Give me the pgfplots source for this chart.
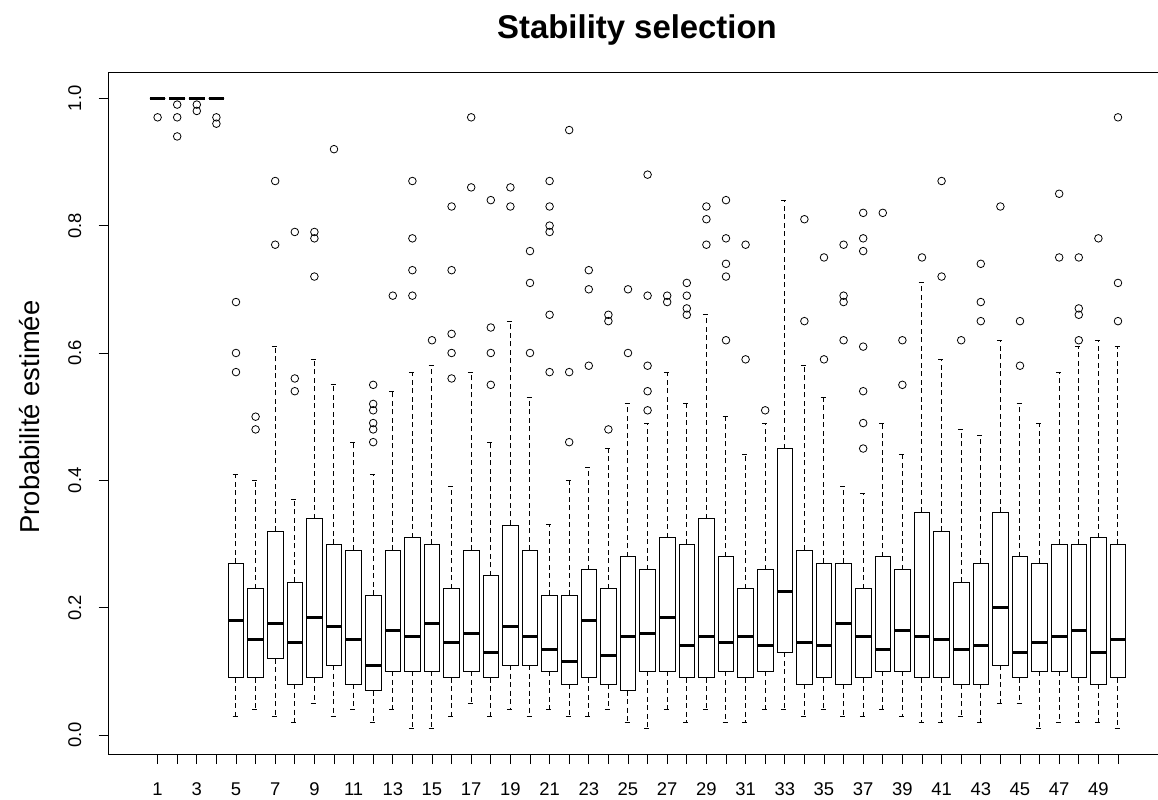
\documentclass[border=0pt]{standalone}
\usepackage{pgfplots}
\pgfplotsset{compat=1.18}
\usepgfplotslibrary{statistics}
\usepackage{fontspec}
\setmainfont{Liberation Sans}

\begin{document}
\begin{tikzpicture}
  \useasboundingbox (0,0) rectangle (1158bp,800bp);
  \node[font=\bfseries\fontsize{33}{38}\selectfont] at (637bp,770bp) {Stability selection};
  \node[rotate=90, font=\fontsize{27.5}{32}\selectfont] at (30bp,383bp) {Probabilité estimée};
  \begin{axis}[
      at={(108.6bp,46bp)}, anchor=south west,
      scale only axis,
      width=1058.4bp, height=681bp,
      xmin=-1.5, xmax=52.5,
      ymin=-0.0296, ymax=1.0396,
      axis line style={line width=1bp},
      tick align=outside,
      major tick length=10bp,
      tick style={black, line width=0.9bp},
      xtick pos=lower, ytick pos=lower,
      xtick={1,...,50},
      xticklabels={1,,3,,5,,7,,9,,11,,13,,15,,17,,19,,21,,23,,25,,27,,29,,31,,33,,35,,37,,39,,41,,43,,45,,47,,49,},
      ytick={0,0.2,0.4,0.6,0.8,1},
      yticklabels={0.0,0.2,0.4,0.6,0.8,1.0},
      ticklabel style={font=\fontsize{18.5}{21}\selectfont, text height=13.5bp, text depth=0bp},
      xticklabel style={anchor=north, yshift=-14bp},
      yticklabel style={rotate=90, anchor=south, yshift=14bp},
      boxplot/draw direction=y,
      boxplot/box extend=0.8,
      boxplot/whisker extend=0.35,
      boxplot/every box/.style={draw=black, line width=0.9bp, fill=white},
      boxplot/every whisker/.style={black, line width=1bp, dash pattern=on 5bp off 3.5bp},
      boxplot/every median/.style={black, line width=3bp},
      every axis plot/.append style={black, mark=o, mark size=3.8bp, mark options={solid, line width=0.8bp}},
    ]
    \addplot[boxplot prepared={draw position=1, lower whisker=1, lower quartile=1, median=1, upper quartile=1, upper whisker=1}] table[row sep=\\, y index=0] {0.97\\};
    \addplot[boxplot prepared={draw position=2, lower whisker=1, lower quartile=1, median=1, upper quartile=1, upper whisker=1}] table[row sep=\\, y index=0] {0.99\\0.97\\0.94\\};
    \addplot[boxplot prepared={draw position=3, lower whisker=1, lower quartile=1, median=1, upper quartile=1, upper whisker=1}] table[row sep=\\, y index=0] {0.99\\0.98\\};
    \addplot[boxplot prepared={draw position=4, lower whisker=1, lower quartile=1, median=1, upper quartile=1, upper whisker=1}] table[row sep=\\, y index=0] {0.97\\0.96\\};
    \addplot[boxplot prepared={draw position=5, lower whisker=0.03, lower quartile=0.09, median=0.18, upper quartile=0.27, upper whisker=0.41}] table[row sep=\\, y index=0] {0.68\\0.60\\0.57\\};
    \addplot[boxplot prepared={draw position=6, lower whisker=0.04, lower quartile=0.09, median=0.15, upper quartile=0.23, upper whisker=0.40}] table[row sep=\\, y index=0] {0.50\\0.48\\};
    \addplot[boxplot prepared={draw position=7, lower whisker=0.03, lower quartile=0.12, median=0.175, upper quartile=0.32, upper whisker=0.61}] table[row sep=\\, y index=0] {0.87\\0.77\\};
    \addplot[boxplot prepared={draw position=8, lower whisker=0.02, lower quartile=0.08, median=0.145, upper quartile=0.24, upper whisker=0.37}] table[row sep=\\, y index=0] {0.79\\0.56\\0.54\\};
    \addplot[boxplot prepared={draw position=9, lower whisker=0.05, lower quartile=0.09, median=0.185, upper quartile=0.34, upper whisker=0.59}] table[row sep=\\, y index=0] {0.79\\0.78\\0.72\\};
    \addplot[boxplot prepared={draw position=10, lower whisker=0.03, lower quartile=0.11, median=0.17, upper quartile=0.30, upper whisker=0.55}] table[row sep=\\, y index=0] {0.92\\};
    \addplot[boxplot prepared={draw position=11, lower whisker=0.04, lower quartile=0.08, median=0.15, upper quartile=0.29, upper whisker=0.46}] coordinates {};
    \addplot[boxplot prepared={draw position=12, lower whisker=0.02, lower quartile=0.07, median=0.11, upper quartile=0.22, upper whisker=0.41}] table[row sep=\\, y index=0] {0.55\\0.52\\0.51\\0.49\\0.48\\0.46\\};
    \addplot[boxplot prepared={draw position=13, lower whisker=0.04, lower quartile=0.10, median=0.165, upper quartile=0.29, upper whisker=0.54}] table[row sep=\\, y index=0] {0.69\\};
    \addplot[boxplot prepared={draw position=14, lower whisker=0.01, lower quartile=0.10, median=0.155, upper quartile=0.31, upper whisker=0.57}] table[row sep=\\, y index=0] {0.87\\0.78\\0.73\\0.69\\};
    \addplot[boxplot prepared={draw position=15, lower whisker=0.01, lower quartile=0.10, median=0.175, upper quartile=0.30, upper whisker=0.58}] table[row sep=\\, y index=0] {0.62\\};
    \addplot[boxplot prepared={draw position=16, lower whisker=0.03, lower quartile=0.09, median=0.145, upper quartile=0.23, upper whisker=0.39}] table[row sep=\\, y index=0] {0.83\\0.73\\0.63\\0.60\\0.56\\};
    \addplot[boxplot prepared={draw position=17, lower whisker=0.05, lower quartile=0.10, median=0.16, upper quartile=0.29, upper whisker=0.57}] table[row sep=\\, y index=0] {0.97\\0.86\\};
    \addplot[boxplot prepared={draw position=18, lower whisker=0.03, lower quartile=0.09, median=0.13, upper quartile=0.25, upper whisker=0.46}] table[row sep=\\, y index=0] {0.84\\0.64\\0.60\\0.55\\};
    \addplot[boxplot prepared={draw position=19, lower whisker=0.04, lower quartile=0.11, median=0.17, upper quartile=0.33, upper whisker=0.65}] table[row sep=\\, y index=0] {0.86\\0.83\\};
    \addplot[boxplot prepared={draw position=20, lower whisker=0.03, lower quartile=0.11, median=0.155, upper quartile=0.29, upper whisker=0.53}] table[row sep=\\, y index=0] {0.76\\0.71\\0.60\\};
    \addplot[boxplot prepared={draw position=21, lower whisker=0.04, lower quartile=0.10, median=0.135, upper quartile=0.22, upper whisker=0.33}] table[row sep=\\, y index=0] {0.87\\0.83\\0.80\\0.79\\0.66\\0.57\\};
    \addplot[boxplot prepared={draw position=22, lower whisker=0.03, lower quartile=0.08, median=0.115, upper quartile=0.22, upper whisker=0.40}] table[row sep=\\, y index=0] {0.95\\0.57\\0.46\\};
    \addplot[boxplot prepared={draw position=23, lower whisker=0.03, lower quartile=0.09, median=0.18, upper quartile=0.26, upper whisker=0.42}] table[row sep=\\, y index=0] {0.73\\0.70\\0.58\\};
    \addplot[boxplot prepared={draw position=24, lower whisker=0.04, lower quartile=0.08, median=0.125, upper quartile=0.23, upper whisker=0.45}] table[row sep=\\, y index=0] {0.66\\0.65\\0.48\\};
    \addplot[boxplot prepared={draw position=25, lower whisker=0.02, lower quartile=0.07, median=0.155, upper quartile=0.28, upper whisker=0.52}] table[row sep=\\, y index=0] {0.70\\0.60\\};
    \addplot[boxplot prepared={draw position=26, lower whisker=0.01, lower quartile=0.10, median=0.16, upper quartile=0.26, upper whisker=0.49}] table[row sep=\\, y index=0] {0.88\\0.69\\0.58\\0.54\\0.51\\};
    \addplot[boxplot prepared={draw position=27, lower whisker=0.04, lower quartile=0.10, median=0.185, upper quartile=0.31, upper whisker=0.57}] table[row sep=\\, y index=0] {0.69\\0.68\\};
    \addplot[boxplot prepared={draw position=28, lower whisker=0.02, lower quartile=0.09, median=0.14, upper quartile=0.30, upper whisker=0.52}] table[row sep=\\, y index=0] {0.71\\0.69\\0.67\\0.66\\};
    \addplot[boxplot prepared={draw position=29, lower whisker=0.04, lower quartile=0.09, median=0.155, upper quartile=0.34, upper whisker=0.66}] table[row sep=\\, y index=0] {0.83\\0.81\\0.77\\};
    \addplot[boxplot prepared={draw position=30, lower whisker=0.02, lower quartile=0.10, median=0.145, upper quartile=0.28, upper whisker=0.50}] table[row sep=\\, y index=0] {0.84\\0.78\\0.74\\0.72\\0.62\\};
    \addplot[boxplot prepared={draw position=31, lower whisker=0.02, lower quartile=0.09, median=0.155, upper quartile=0.23, upper whisker=0.44}] table[row sep=\\, y index=0] {0.77\\0.59\\};
    \addplot[boxplot prepared={draw position=32, lower whisker=0.04, lower quartile=0.10, median=0.14, upper quartile=0.26, upper whisker=0.49}] table[row sep=\\, y index=0] {0.51\\};
    \addplot[boxplot prepared={draw position=33, lower whisker=0.04, lower quartile=0.13, median=0.225, upper quartile=0.45, upper whisker=0.84}] coordinates {};
    \addplot[boxplot prepared={draw position=34, lower whisker=0.03, lower quartile=0.08, median=0.145, upper quartile=0.29, upper whisker=0.58}] table[row sep=\\, y index=0] {0.81\\0.65\\};
    \addplot[boxplot prepared={draw position=35, lower whisker=0.04, lower quartile=0.09, median=0.14, upper quartile=0.27, upper whisker=0.53}] table[row sep=\\, y index=0] {0.75\\0.59\\};
    \addplot[boxplot prepared={draw position=36, lower whisker=0.03, lower quartile=0.08, median=0.175, upper quartile=0.27, upper whisker=0.39}] table[row sep=\\, y index=0] {0.77\\0.69\\0.68\\0.62\\};
    \addplot[boxplot prepared={draw position=37, lower whisker=0.03, lower quartile=0.09, median=0.155, upper quartile=0.23, upper whisker=0.38}] table[row sep=\\, y index=0] {0.82\\0.78\\0.76\\0.61\\0.54\\0.49\\0.45\\};
    \addplot[boxplot prepared={draw position=38, lower whisker=0.04, lower quartile=0.10, median=0.135, upper quartile=0.28, upper whisker=0.49}] table[row sep=\\, y index=0] {0.82\\};
    \addplot[boxplot prepared={draw position=39, lower whisker=0.03, lower quartile=0.10, median=0.165, upper quartile=0.26, upper whisker=0.44}] table[row sep=\\, y index=0] {0.62\\0.55\\};
    \addplot[boxplot prepared={draw position=40, lower whisker=0.02, lower quartile=0.09, median=0.155, upper quartile=0.35, upper whisker=0.71}] table[row sep=\\, y index=0] {0.75\\};
    \addplot[boxplot prepared={draw position=41, lower whisker=0.02, lower quartile=0.09, median=0.15, upper quartile=0.32, upper whisker=0.59}] table[row sep=\\, y index=0] {0.87\\0.72\\};
    \addplot[boxplot prepared={draw position=42, lower whisker=0.03, lower quartile=0.08, median=0.135, upper quartile=0.24, upper whisker=0.48}] table[row sep=\\, y index=0] {0.62\\};
    \addplot[boxplot prepared={draw position=43, lower whisker=0.02, lower quartile=0.08, median=0.14, upper quartile=0.27, upper whisker=0.47}] table[row sep=\\, y index=0] {0.74\\0.68\\0.65\\};
    \addplot[boxplot prepared={draw position=44, lower whisker=0.05, lower quartile=0.11, median=0.20, upper quartile=0.35, upper whisker=0.62}] table[row sep=\\, y index=0] {0.83\\};
    \addplot[boxplot prepared={draw position=45, lower whisker=0.05, lower quartile=0.09, median=0.13, upper quartile=0.28, upper whisker=0.52}] table[row sep=\\, y index=0] {0.65\\0.58\\};
    \addplot[boxplot prepared={draw position=46, lower whisker=0.01, lower quartile=0.10, median=0.145, upper quartile=0.27, upper whisker=0.49}] coordinates {};
    \addplot[boxplot prepared={draw position=47, lower whisker=0.02, lower quartile=0.10, median=0.155, upper quartile=0.30, upper whisker=0.57}] table[row sep=\\, y index=0] {0.85\\0.75\\};
    \addplot[boxplot prepared={draw position=48, lower whisker=0.02, lower quartile=0.09, median=0.165, upper quartile=0.30, upper whisker=0.61}] table[row sep=\\, y index=0] {0.75\\0.67\\0.66\\0.62\\};
    \addplot[boxplot prepared={draw position=49, lower whisker=0.02, lower quartile=0.08, median=0.13, upper quartile=0.31, upper whisker=0.62}] table[row sep=\\, y index=0] {0.78\\};
    \addplot[boxplot prepared={draw position=50, lower whisker=0.01, lower quartile=0.09, median=0.15, upper quartile=0.30, upper whisker=0.61}] table[row sep=\\, y index=0] {0.97\\0.71\\0.65\\};
  \end{axis}
\end{tikzpicture}
\end{document}
